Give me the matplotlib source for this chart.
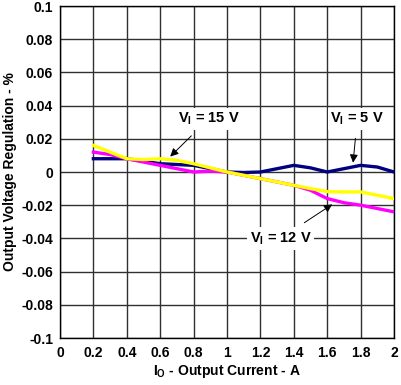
import matplotlib
matplotlib.use("Agg")
import matplotlib.pyplot as plt

plt.rcParams['font.family'] = ['Liberation Sans', 'DejaVu Sans']
plt.rcParams['font.weight'] = 'bold'
plt.rcParams['mathtext.fontset'] = 'custom'
plt.rcParams['mathtext.rm'] = 'Liberation Sans:bold'
plt.rcParams['mathtext.bf'] = 'Liberation Sans:bold'
plt.rcParams['mathtext.default'] = 'rm'

current = [0.2, 0.3, 0.4, 0.5, 0.6, 0.7, 0.8, 0.9, 1.0, 1.1, 1.2, 1.3, 1.4, 1.5, 1.6, 1.7, 1.8, 1.9, 2.0]
reg_5v = [0.008, 0.008, 0.008, 0.0065, 0.005, 0.0045, 0.004, 0.002, 0.0, -0.0003, 0.0, 0.002, 0.004, 0.0025, 0.0, 0.002, 0.004, 0.003, 0.0]
reg_12v = [0.012, 0.0105, 0.008, 0.006, 0.004, 0.002, 0.0, 0.0005, 0.0, -0.002, -0.004, -0.006, -0.008, -0.011, -0.016, -0.0185, -0.020, -0.022, -0.024]
reg_15v = [0.016, 0.012, 0.008, 0.0075, 0.008, 0.007, 0.005, 0.0025, 0.0, -0.002, -0.004, -0.006, -0.008, -0.010, -0.0118, -0.012, -0.012, -0.014, -0.016]

xticks = [0, 0.2, 0.4, 0.6, 0.8, 1, 1.2, 1.4, 1.6, 1.8, 2]
xtick_labels = ['0', '0.2', '0.4', '0.6', '0.8', '1', '1.2', '1.4', '1.6', '1.8', '2']
yticks = [-0.1, -0.08, -0.06, -0.04, -0.02, 0, 0.02, 0.04, 0.06, 0.08, 0.1]
ytick_labels = ['-0.1', '-0.08', '-0.06', '-0.04', '-0.02', '0', '0.02', '0.04', '0.06', '0.08', '0.1']

fig = plt.figure(figsize=(4.02, 3.85), dpi=100)
ax = fig.add_axes([60/402, 1-338/385, 334/402, 332/385])

ax.plot(current, reg_5v, color='#000080', lw=2.4, zorder=3)
ax.plot(current, reg_12v, color='#FF00FF', lw=2.4, zorder=3)
ax.plot(current, reg_15v, color='#FFFF00', lw=2.4, zorder=4)

ax.set_xlim(0, 2)
ax.set_ylim(-0.1, 0.1)
ax.set_xticks(xticks)
ax.set_xticklabels(xtick_labels)
ax.set_yticks(yticks)
ax.set_yticklabels(ytick_labels)
ax.tick_params(axis='y', length=0, labelsize=10, pad=5)
ax.tick_params(axis='x', length=0, labelsize=10, pad=6)
ax.grid(True, color='#303030', lw=1)
ax.set_axisbelow(True)
for s in ax.spines.values():
    s.set_color('black')
    s.set_linewidth(1)

ax.set_xlabel('I$_{O}$ - Output Current - A', fontsize=10, fontweight='bold', labelpad=2)
ax.set_ylabel('Output Voltage Regulation - %', fontsize=10, fontweight='bold', labelpad=3)

arrow = dict(arrowstyle='-|>', color='black', lw=0.7, mutation_scale=12, shrinkA=6, shrinkB=0)
ax.annotate('V$_{I}$ = 15 V', xy=(0.66, 0.0093), xytext=(0.89, 0.032), ha='center', va='center',
            fontsize=10.5, fontweight='bold', arrowprops=arrow,
            bbox=dict(boxstyle='square,pad=0.2', fc='white', ec='none'), zorder=5)
ax.annotate('V$_{I}$ = 5 V', xy=(1.755, 0.0056), xytext=(1.78, 0.032), ha='center', va='center',
            fontsize=10.5, fontweight='bold', arrowprops=arrow,
            bbox=dict(boxstyle='square,pad=0.2', fc='white', ec='none'), zorder=5)
ax.annotate('V$_{I}$ = 12 V', xy=(1.63, -0.0195), xytext=(1.32, -0.040), ha='center', va='center',
            fontsize=10.5, fontweight='bold', arrowprops=arrow,
            bbox=dict(boxstyle='square,pad=0.2', fc='white', ec='none'), zorder=5)

fig.savefig('out.png', dpi=100)
